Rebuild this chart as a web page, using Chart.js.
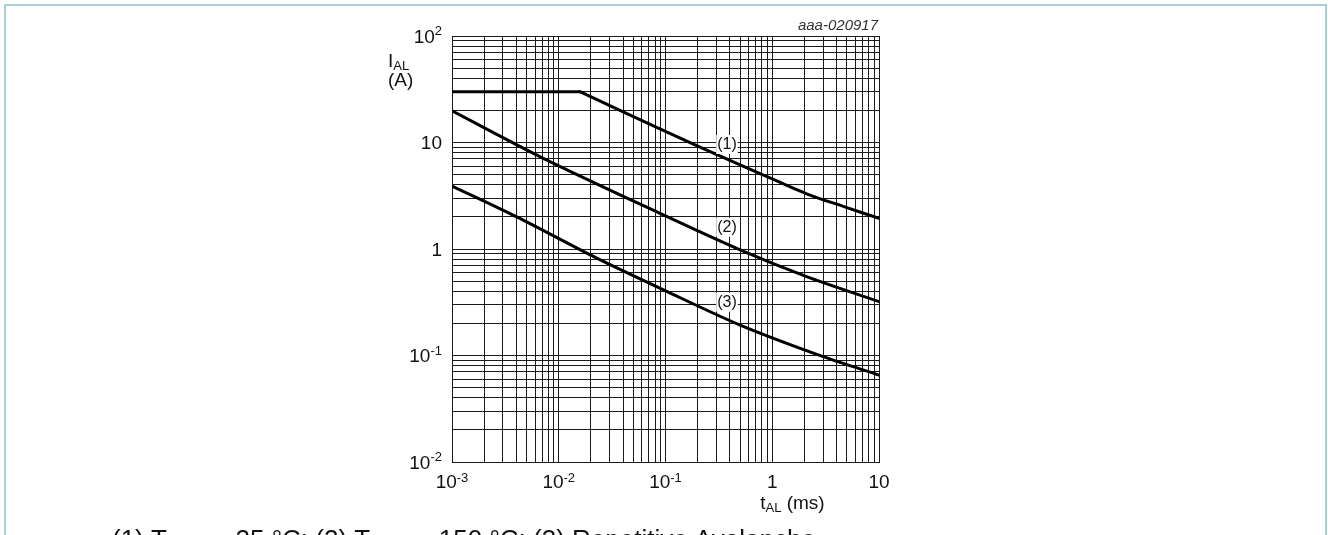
<!DOCTYPE html>
<html>
<head>
<meta charset="utf-8">
<script src="https://cdn.jsdelivr.net/npm/chart.js@4.4.1/dist/chart.umd.min.js"></script>
<style>
  html, body { margin: 0; padding: 0; background: #fff; }
  #wrap { position: absolute; left: 0; top: 0; width: 1328px; height: 535px; }
</style>
</head>
<body>
<div id="wrap"><canvas id="c" width="1328" height="535"></canvas></div>
<script>
// ---- data ----
const curve1T = [0.001, 0.0158, 0.0887, 0.5, 1, 2.1, 5, 10];
const curve1I = [30, 30, 13.4, 6.15, 4.55, 3.3, 2.45, 1.94];
const curve1Corner = 1; // index where the flat part ends
const curve2T = [0.001, 0.00716, 0.0887, 0.5, 2.1, 10];
const curve2I = [19.8, 7.1, 2.16, 0.98, 0.55, 0.32];
const curve3T = [0.001, 0.00404, 0.0227, 0.1026, 0.5, 3.0, 10];
const curve3I = [3.9, 2.0, 0.82, 0.40, 0.193, 0.0975, 0.0656];

const curveLabels = ['(1)', '(2)', '(3)'];
const curveLabelT = [0.377, 0.377, 0.377];
const curveLabelI = [9.68, 1.62, 0.32];

const xMajorTicks = [0.001, 0.01, 0.1, 1, 10];
const xTickLabels = [['10', '-3'], ['10', '-2'], ['10', '-1'], ['1', ''], ['10', '']];
const yMajorTicks = [0.01, 0.1, 1, 10, 100];
const yTickLabels = [['10', '-2'], ['10', '-1'], ['1', ''], ['10', ''], ['10', '2']];

const xTitle = ['t', 'AL', ' (ms)'];
const yTitle = ['I', 'AL', '(A)'];
const docId = 'aaa-020917';
const footnote = [['(1) T', 'j(init)'], [' = 25 °C; (2) T', 'j(init)'], [' = 150 °C; (3) Repetitive Avalanche', '']];

// ---- helpers ----
const FONT = '"Liberation Sans", Arial, sans-serif';
const TXT = '#111';

function logGrid(min, max) {
  const out = [];
  for (let e = Math.round(Math.log10(min)); e < Math.round(Math.log10(max)); e++) {
    for (let s = 1; s < 10; s++) out.push({ value: s * Math.pow(10, e) });
  }
  out.push({ value: max });
  return out;
}

function pts(ts, is) { return ts.map((t, i) => ({ x: t, y: is[i] })); }

function drawPow(ctx, base, exp, x, baseY, align, expLift) {
  ctx.font = '19px ' + FONT;
  const wb = ctx.measureText(base).width;
  ctx.font = '13px ' + FONT;
  const we = exp ? ctx.measureText(exp).width : 0;
  const w = wb + we;
  let sx = x;
  if (align === 'right') sx = x - w;
  else if (align === 'center') sx = x - w / 2;
  ctx.textAlign = 'left';
  ctx.textBaseline = 'alphabetic';
  ctx.font = '19px ' + FONT;
  ctx.fillText(base, sx, baseY);
  if (exp) {
    ctx.font = '13px ' + FONT;
    ctx.fillText(exp, sx + wb, baseY - expLift);
  }
}

const decor = {
  id: 'decor',
  beforeDraw(chart) {
    const ctx = chart.ctx;
    ctx.save();
    ctx.strokeStyle = '#a9d0d7';
    ctx.lineWidth = 2;
    ctx.beginPath();
    ctx.moveTo(5, 600); ctx.lineTo(5, 5); ctx.lineTo(1326, 5); ctx.lineTo(1326, 600);
    ctx.stroke();
    ctx.restore();
  },
  afterDraw(chart) {
    const ctx = chart.ctx;
    const xs = chart.scales.x, ys = chart.scales.y;
    const ca = chart.chartArea;
    ctx.save();
    ctx.fillStyle = TXT;
    // y tick labels
    yMajorTicks.forEach((v, i) => {
      const py = ys.getPixelForValue(v);
      drawPow(ctx, yTickLabels[i][0], yTickLabels[i][1], ca.left - 10, py + 6.8, 'right', 7.5);
    });
    // x tick labels
    xMajorTicks.forEach((v, i) => {
      const px = xs.getPixelForValue(v);
      drawPow(ctx, xTickLabels[i][0], xTickLabels[i][1], px, ca.bottom + 26, 'center', 6.5);
    });
    // x title
    ctx.textAlign = 'left'; ctx.textBaseline = 'alphabetic';
    let tx = xs.getPixelForValue(1) - 12;
    const tyb = ca.bottom + 47;
    ctx.font = '19px ' + FONT; ctx.fillText(xTitle[0], tx, tyb); tx += ctx.measureText(xTitle[0]).width;
    ctx.font = '13px ' + FONT; ctx.fillText(xTitle[1], tx, tyb + 3); tx += ctx.measureText(xTitle[1]).width;
    ctx.font = '19px ' + FONT; ctx.fillText(xTitle[2], tx, tyb);
    // y title
    let yx = ca.left - 64;
    ctx.font = '19px ' + FONT; ctx.fillText(yTitle[0], yx, ca.top + 31);
    const wI = ctx.measureText(yTitle[0]).width;
    ctx.font = '13px ' + FONT; ctx.fillText(yTitle[1], yx + wI, ca.top + 34);
    ctx.font = '19px ' + FONT; ctx.fillText(yTitle[2], yx, ca.top + 50);
    // document id
    ctx.font = 'italic 15px ' + FONT;
    ctx.textAlign = 'right';
    ctx.fillStyle = '#333';
    ctx.fillText(docId, ca.right - 1, ca.top - 6);
    // curve labels with white boxes
    ctx.font = '16px ' + FONT;
    ctx.textAlign = 'center'; ctx.textBaseline = 'middle';
    curveLabels.forEach((lab, i) => {
      const px = xs.getPixelForValue(curveLabelT[i]);
      const py = ys.getPixelForValue(curveLabelI[i]);
      const w = ctx.measureText(lab).width + 2;
      ctx.fillStyle = '#fff';
      ctx.fillRect(px - w / 2, py - 9, w, 19);
      ctx.fillStyle = TXT;
      ctx.fillText(lab, px, py + 1);
    });
    // footnote (cut off by bottom edge)
    ctx.fillStyle = TXT;
    ctx.textAlign = 'left'; ctx.textBaseline = 'alphabetic';
    let fx = 112;
    const fy = 548;
    footnote.forEach(([main, sub]) => {
      ctx.font = '26px ' + FONT; ctx.fillText(main, fx, fy); fx += ctx.measureText(main).width;
      if (sub) { ctx.font = '18px ' + FONT; ctx.fillText(sub, fx, fy + 6); fx += ctx.measureText(sub).width; }
    });
    ctx.restore();
  }
};

const gridOpts = { color: '#1a1a1a', lineWidth: 1, drawTicks: false };
const borderOpts = { display: true, color: '#1a1a1a', width: 1 };
const lineStyle = { borderColor: '#000', borderWidth: 3, pointRadius: 0, fill: false, borderCapStyle: 'round', borderJoinStyle: 'round' };

const c1 = pts(curve1T, curve1I);

new Chart(document.getElementById('c'), {
  type: 'line',
  data: {
    datasets: [
      { data: c1.slice(0, curve1Corner + 1), tension: 0 },
      { data: c1.slice(curve1Corner), tension: 0.4 },
      { data: pts(curve2T, curve2I), tension: 0.3 },
      { data: pts(curve3T, curve3I), tension: 0.3 }
    ].map(d => Object.assign(d, lineStyle))
  },
  options: {
    responsive: false,
    animation: false,
    devicePixelRatio: 1,
    layout: { padding: { left: 452, right: 449, top: 36, bottom: 73 } },
    plugins: { legend: { display: false }, tooltip: { enabled: false } },
    scales: {
      x: {
        type: 'logarithmic', min: 0.001, max: 10,
        afterBuildTicks: s => { s.ticks = logGrid(0.001, 10); },
        ticks: { display: false },
        grid: gridOpts, border: borderOpts
      },
      y: {
        type: 'logarithmic', min: 0.01, max: 100,
        afterBuildTicks: s => { s.ticks = logGrid(0.01, 100); },
        ticks: { display: false },
        grid: gridOpts, border: borderOpts
      }
    }
  },
  plugins: [decor]
});
</script>
</body>
</html>
